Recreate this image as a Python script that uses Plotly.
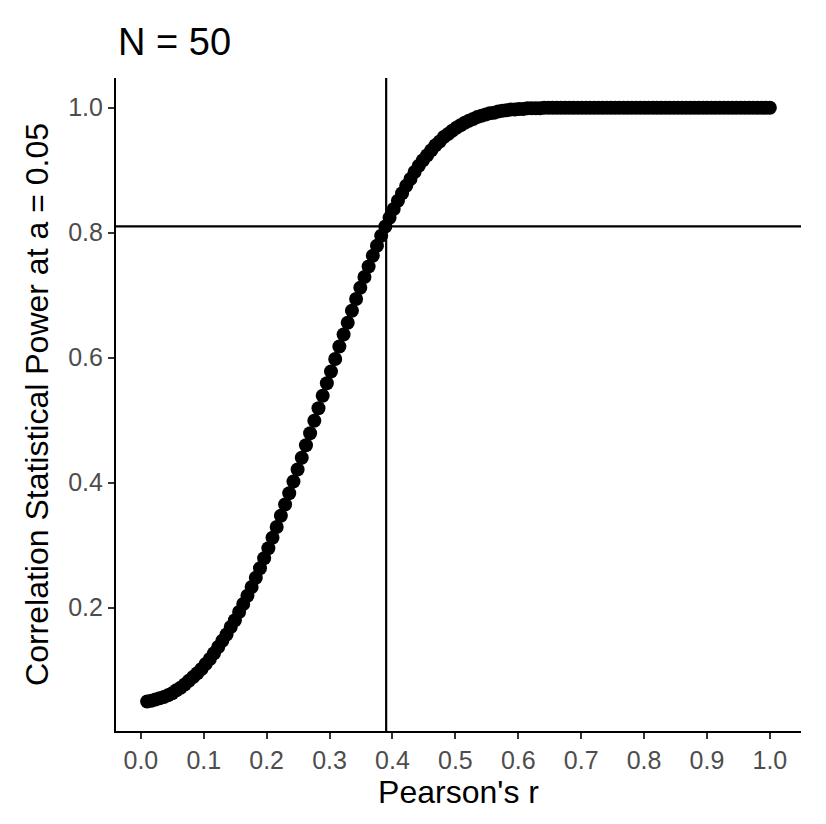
import plotly.graph_objects as go

# Pearson's r, 150 points from 0.01 to 1.00
r = [
    0.0100, 0.0166, 0.0233, 0.0299, 0.0366, 0.0432, 0.0499, 0.0565, 0.0632, 0.0698,
    0.0764, 0.0831, 0.0897, 0.0964, 0.1030, 0.1097, 0.1163, 0.1230, 0.1296, 0.1362,
    0.1429, 0.1495, 0.1562, 0.1628, 0.1695, 0.1761, 0.1828, 0.1894, 0.1960, 0.2027,
    0.2093, 0.2160, 0.2226, 0.2293, 0.2359, 0.2426, 0.2492, 0.2558, 0.2625, 0.2691,
    0.2758, 0.2824, 0.2891, 0.2957, 0.3023, 0.3090, 0.3156, 0.3223, 0.3289, 0.3356,
    0.3422, 0.3489, 0.3555, 0.3621, 0.3688, 0.3754, 0.3821, 0.3887, 0.3954, 0.4020,
    0.4087, 0.4153, 0.4219, 0.4286, 0.4352, 0.4419, 0.4485, 0.4552, 0.4618, 0.4685,
    0.4751, 0.4817, 0.4884, 0.4950, 0.5017, 0.5083, 0.5150, 0.5216, 0.5283, 0.5349,
    0.5415, 0.5482, 0.5548, 0.5615, 0.5681, 0.5748, 0.5814, 0.5881, 0.5947, 0.6013,
    0.6080, 0.6146, 0.6213, 0.6279, 0.6346, 0.6412, 0.6479, 0.6545, 0.6611, 0.6678,
    0.6744, 0.6811, 0.6877, 0.6944, 0.7010, 0.7077, 0.7143, 0.7209, 0.7276, 0.7342,
    0.7409, 0.7475, 0.7542, 0.7608, 0.7675, 0.7741, 0.7807, 0.7874, 0.7940, 0.8007,
    0.8073, 0.8140, 0.8206, 0.8272, 0.8339, 0.8405, 0.8472, 0.8538, 0.8605, 0.8671,
    0.8738, 0.8804, 0.8870, 0.8937, 0.9003, 0.9070, 0.9136, 0.9203, 0.9269, 0.9336,
    0.9402, 0.9468, 0.9535, 0.9601, 0.9668, 0.9734, 0.9801, 0.9867, 0.9934, 1.0000,
]

# power
power = [
    0.050, 0.051, 0.053, 0.055, 0.057, 0.060, 0.063, 0.068, 0.072, 0.077,
    0.083, 0.089, 0.095, 0.102, 0.110, 0.118, 0.127, 0.137, 0.147, 0.157,
    0.169, 0.180, 0.193, 0.206, 0.219, 0.233, 0.248, 0.263, 0.279, 0.295,
    0.312, 0.329, 0.347, 0.365, 0.383, 0.402, 0.421, 0.440, 0.460, 0.479,
    0.499, 0.519, 0.539, 0.559, 0.578, 0.598, 0.618, 0.637, 0.656, 0.675,
    0.694, 0.712, 0.729, 0.746, 0.763, 0.779, 0.795, 0.810, 0.824, 0.838,
    0.851, 0.863, 0.875, 0.886, 0.897, 0.907, 0.916, 0.924, 0.932, 0.940,
    0.946, 0.953, 0.958, 0.963, 0.968, 0.972, 0.976, 0.979, 0.982, 0.985,
    0.987, 0.989, 0.991, 0.992, 0.994, 0.995, 0.996, 0.997, 0.997, 0.998,
    0.998, 0.999, 0.999, 0.999, 0.999, 1.000, 1.000, 1.000, 1.000, 1.000,
    1.000, 1.000, 1.000, 1.000, 1.000, 1.000, 1.000, 1.000, 1.000, 1.000,
    1.000, 1.000, 1.000, 1.000, 1.000, 1.000, 1.000, 1.000, 1.000, 1.000,
    1.000, 1.000, 1.000, 1.000, 1.000, 1.000, 1.000, 1.000, 1.000, 1.000,
    1.000, 1.000, 1.000, 1.000, 1.000, 1.000, 1.000, 1.000, 1.000, 1.000,
    1.000, 1.000, 1.000, 1.000, 1.000, 1.000, 1.000, 1.000, 1.000, 1.000,
]

r_cut = 0.39
power_cut = 0.81

x_ticks = [0.0, 0.1, 0.2, 0.3, 0.4, 0.5, 0.6, 0.7, 0.8, 0.9, 1.0]
y_ticks = [0.2, 0.4, 0.6, 0.8, 1.0]

# page body keeps an 8px margin, so the figure is 16px smaller than the window
W, H = 810, 808

fig = go.Figure(go.Scatter(
    x=r, y=power, mode='markers',
    marker=dict(color='black', size=14, line=dict(width=0)),
    showlegend=False,
))

fig.add_hline(y=power_cut, line=dict(color='black', width=2.2))
fig.add_vline(x=r_cut, line=dict(color='black', width=2.2))

fig.update_layout(
    width=W, height=H,
    paper_bgcolor='white', plot_bgcolor='white',
    font=dict(family='Liberation Sans, Arial, sans-serif', color='black'),
    margin=dict(l=108, r=17, t=70, b=83),
    title=dict(text='N = 50', x=110 / W, xanchor='left', xref='container',
               y=1 - 34 / H, yanchor='middle', yref='container',
               font=dict(size=38, color='black')),
)

fig.update_xaxes(
    range=[-0.0395, 1.0495], tickvals=x_ticks,
    ticktext=['%.1f' % v for v in x_ticks],
    showgrid=False, zeroline=False,
    showline=True, linecolor='black', linewidth=2.2,
    ticks='outside', ticklen=6, tickwidth=2, tickcolor='#333333',
    tickfont=dict(size=25, color='#4D4D4D'),
    title=dict(text="Pearson's r", font=dict(size=32, color='black'), standoff=8),
)
fig.update_yaxes(
    range=[0.0027, 1.0475], tickvals=y_ticks,
    ticktext=['%.1f' % v for v in y_ticks],
    showgrid=False, zeroline=False,
    showline=True, linecolor='black', linewidth=2.2,
    ticks='outside', ticklen=6, tickwidth=2, tickcolor='#333333',
    tickfont=dict(size=25, color='#4D4D4D'),
    title=dict(text='Correlation Statistical Power at a = 0.05',
               font=dict(size=32, color='black'), standoff=10),
)

fig.write_html("out.html")
